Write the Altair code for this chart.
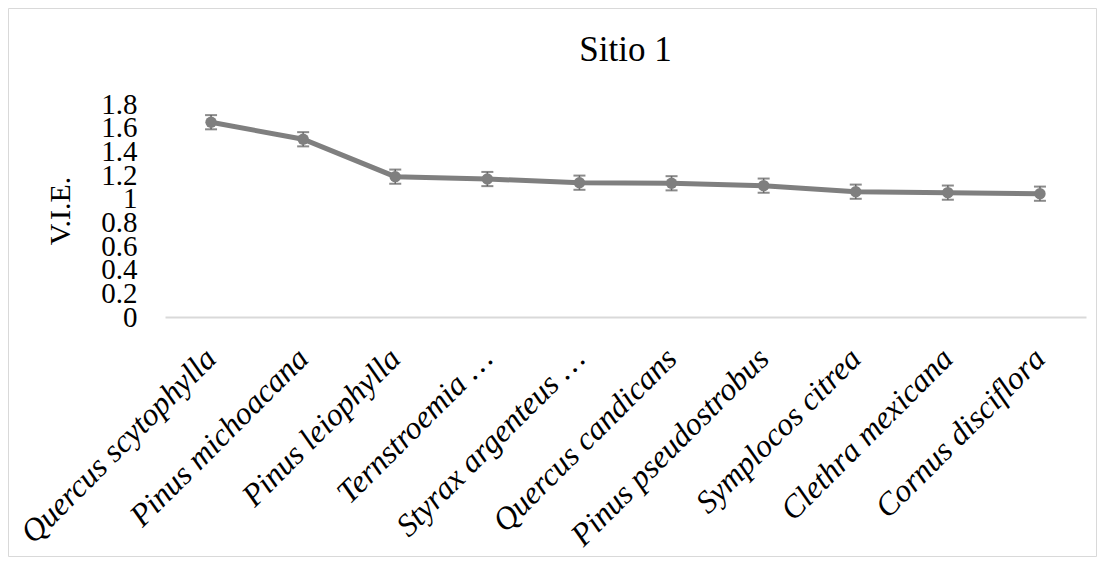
import altair as alt
import pandas as pd

species = ["Quercus scytophylla", "Pinus michoacana", "Pinus leiophylla", "Ternstroemia …",
           "Styrax argenteus …", "Quercus candicans", "Pinus pseudostrobus", "Symplocos citrea",
           "Clethra mexicana", "Cornus disciflora"]
vie = [1.646, 1.502, 1.186, 1.166, 1.135, 1.13, 1.11, 1.059, 1.051, 1.042]
err = [0.06, 0.06, 0.06, 0.06, 0.06, 0.06, 0.06, 0.06, 0.06, 0.06]
y_ticks = [0, 0.2, 0.4, 0.6, 0.8, 1, 1.2, 1.4, 1.6, 1.8]

df = pd.DataFrame({"sp": species, "v": vie, "e": err})
df["lo"] = df["v"] - df["e"]
df["hi"] = df["v"] + df["e"]

FONT = "Liberation Serif"
W, H = 921, 213
PL, PT = 157, 96
TOTW, TOTH = 1089, 549

x = alt.X("sp:N", sort=species, title=None,
          scale=alt.Scale(paddingInner=0, paddingOuter=0),
          axis=alt.Axis(labelAngle=-45, labelAlign="right", labelBaseline="middle",
                        labelFont=FONT, labelFontStyle="italic", labelFontSize=32,
                        labelColor="black", labelPadding=36, ticks=False,
                        labelOverlap=False, labelBound=False, labelFlush=False,
                        domainColor="#d9d9d9", domainWidth=2, labelLimit=500))

yaxis = alt.Axis(values=y_ticks, grid=False, domain=False, ticks=False,
                 labelFont=FONT, labelFontSize=29, labelColor="black",
                 labelOverlap=False, labelBound=False, labelFlush=False,
                 labelPadding=28, labelExpr="format(datum.value, '.1~f')",
                 titleFont=FONT, titleFontSize=30, titleFontWeight="normal",
                 titleColor="black", titleAngle=-90, titleX=-96, titleY=H / 2,
                 titleAlign="center", titleBaseline="alphabetic")
yscale = alt.Scale(domain=[0, 1.8])


def Y(field):
    return alt.Y(field, scale=yscale, title="V.I.E.", axis=yaxis)


base = alt.Chart(df)
line = base.mark_line(color="#7f7f7f", strokeWidth=5).encode(x=x, y=Y("v:Q"))
bars = base.mark_rule(color="#6b6b6b", strokeWidth=1.5).encode(x=x, y=Y("lo:Q"), y2="hi:Q")
cap_lo = base.mark_tick(color="#5a5a5a", thickness=2, size=12, orient="horizontal").encode(x=x, y=Y("lo:Q"))
cap_hi = base.mark_tick(color="#5a5a5a", thickness=2, size=12, orient="horizontal").encode(x=x, y=Y("hi:Q"))
pts = base.mark_point(filled=True, shape="circle", size=130, color="#7f7f7f", opacity=1).encode(x=x, y=Y("v:Q"))

frame = alt.Chart(pd.DataFrame({"a": [0]})).mark_rect(
    fill=None, stroke="#d9d9d9", strokeWidth=1).encode(
    x=alt.value(-PL + 0.5), x2=alt.value(TOTW - PL - 0.5),
    y=alt.value(-PT + 0.5), y2=alt.value(TOTH - PT - 0.5))

chart = alt.layer(frame, line, bars, cap_lo, cap_hi, pts).properties(
    width=W, height=H, background="white",
    title=alt.TitleParams("Sitio 1", font=FONT, fontSize=35, fontWeight="normal",
                          color="black", anchor="middle", frame="group",
                          offset=-88, baseline="alphabetic"),
    autosize=alt.AutoSizeParams(type="none"),
    padding={"left": PL, "top": PT, "right": TOTW - PL - W, "bottom": TOTH - PT - H},
).configure_view(strokeWidth=0)

chart.save("out.html", embed_options={"renderer": "svg", "actions": False})
